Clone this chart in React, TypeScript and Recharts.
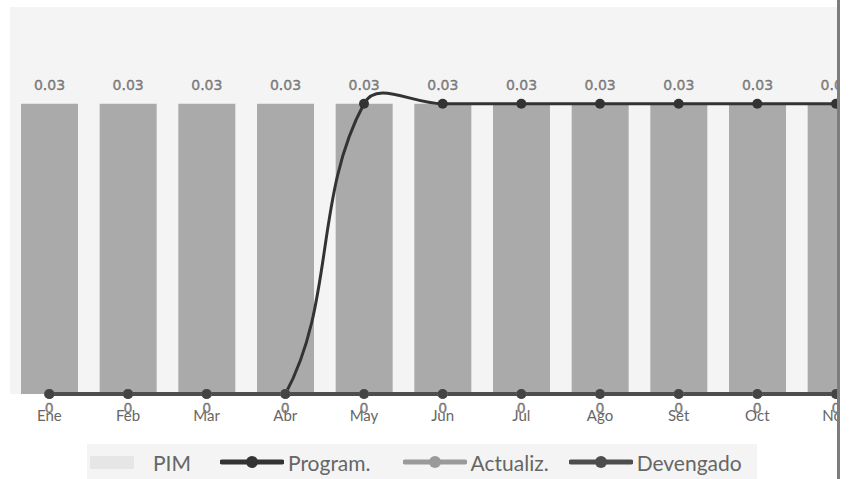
import React from 'react';
import { ComposedChart, Bar, Line, XAxis, YAxis, CartesianGrid, Legend, LabelList } from 'recharts';

const months = ['Ene', 'Feb', 'Mar', 'Abr', 'May', 'Jun', 'Jul', 'Ago', 'Set', 'Oct', 'Nov', 'Dic'];
const pim = [0.03, 0.03, 0.03, 0.03, 0.03, 0.03, 0.03, 0.03, 0.03, 0.03, 0.03, 0.03];
const programado = [0, 0, 0, 0, 0.03, 0.03, 0.03, 0.03, 0.03, 0.03, 0.03, 0.03];
const actualizado = [0, 0, 0, 0, 0, 0, 0, 0, 0, 0, 0, 0];
const devengado = [0, 0, 0, 0, 0, 0, 0, 0, 0, 0, 0, 0];

const data = months.map((m, i) => ({
    mes: m,
    PIM: pim[i],
    'Program.': programado[i],
    'Actualiz.': actualizado[i],
    Devengado: devengado[i],
}));

// spline like chart.js (tension 0.4, control points capped at the bottom)
const splineCurve = (ctx: any) => {
    let pts: [number, number][] = [];
    const t = 0.4;
    return {
        areaStart() {},
        areaEnd() {},
        lineStart() { pts = []; },
        point(x: number, y: number) { pts.push([+x, +y]); },
        lineEnd() {
            if (!pts.length) return;
            const maxY = Math.max(...pts.map(p => p[1]));
            const cps = pts.map((cur, i) => {
                const prev = pts[i - 1] || cur;
                const next = pts[i + 1] || cur;
                const d01 = Math.hypot(cur[0] - prev[0], cur[1] - prev[1]);
                const d12 = Math.hypot(next[0] - cur[0], next[1] - cur[1]);
                const sum = d01 + d12 || 1;
                const fa = t * d01 / sum;
                const fb = t * d12 / sum;
                const dx = next[0] - prev[0];
                const dy = next[1] - prev[1];
                const cap = (v: number) => Math.min(v, maxY);
                return {
                    p: [cur[0] - fa * dx, cap(cur[1] - fa * dy)],
                    n: [cur[0] + fb * dx, cap(cur[1] + fb * dy)],
                };
            });
            ctx.moveTo(pts[0][0], pts[0][1]);
            for (let i = 1; i < pts.length; i++) {
                ctx.bezierCurveTo(cps[i - 1].n[0], cps[i - 1].n[1], cps[i].p[0], cps[i].p[1], pts[i][0], pts[i][1]);
            }
        },
    };
};

// thin outlined look of the value labels
const labelFont = { fill: '#888', stroke: '#555', strokeWidth: 0.3, style: { fontFamily: "'DejaVu Sans', sans-serif" } };

const BarTopLabel = (props: any) => {
    const { x, y, width, value } = props;
    return (
        <text x={x + width / 2} y={y - 14} textAnchor="middle" fontSize={14} {...labelFont}>{value}</text>
    );
};

const PointLabel = (props: any) => {
    const { x, y, value } = props;
    return (
        <text x={x} y={y + 19} textAnchor="middle" fontSize={14} {...labelFont}>{value}</text>
    );
};

const legendItems = [
    { name: 'PIM', color: '#e6e6e6', bar: true, gap: 3 },
    { name: 'Program.', color: '#333333', gap: 29 },
    { name: 'Actualiz.', color: '#9a9a9a', gap: 32 },
    { name: 'Devengado', color: '#4d4d4d', gap: 20 },
];

const LegendBox = () => (
    <div style={{ display: 'flex', alignItems: 'center', height: 36, background: '#f4f4f4', fontFamily: 'Lato', fontSize: 21, color: '#666' }}>
        {legendItems.map(it => (
            <div key={it.name} style={{ display: 'flex', alignItems: 'center', marginLeft: it.gap }}>
                {it.bar ? (
                    <div style={{ width: 44, height: 13, background: it.color, marginRight: 19 }} />
                ) : (
                    <svg width={64} height={16} style={{ marginRight: 4 }}>
                        <line x1={2} y1={8} x2={62} y2={8} stroke={it.color} strokeWidth={5} strokeLinecap="round" />
                        <circle cx={32} cy={8} r={6} fill={it.color} />
                    </svg>
                )}
                <span>{it.name}</span>
            </div>
        ))}
    </div>
);

export default function App() {
    return (
        <div style={{ position: 'absolute', left: 0, top: 0, width: 849, height: 479, background: '#fff', overflow: 'hidden' }}>
            <div style={{ position: 'absolute', left: 0, top: 0, width: 837, height: 479, overflow: 'hidden', borderRight: '3px solid #7d7d7d' }}>
                <ComposedChart width={960} height={479} data={data} margin={{ top: 7, right: 6, left: 10, bottom: 55 }}>
                    <CartesianGrid fill="#f4f4f4" horizontal={false} vertical={false} />
                    <XAxis
                        dataKey="mes"
                        axisLine={false}
                        tickLine={false}
                        tickSize={0}
                        tickMargin={16}
                        height={30}
                        interval={0}
                        tick={{ fill: '#666', fontFamily: 'Lato', fontSize: 15 }}
                    />
                    <YAxis hide domain={[0, 0.04]} />
                    <Legend verticalAlign="middle" layout="horizontal" content={<LegendBox />}
                        wrapperStyle={{ left: 87, top: 444, width: 670 }} />
                    <Bar dataKey="PIM" fill="#aaaaaa" barSize={57} isAnimationActive={false}>
                        <LabelList dataKey="PIM" content={<BarTopLabel />} />
                    </Bar>
                    <Line dataKey="Program." type={splineCurve as any} stroke="#333333" strokeWidth={3}
                        dot={{ r: 5, fill: '#333333', stroke: '#333333', strokeWidth: 0 }} isAnimationActive={false} />
                    <Line dataKey="Actualiz." type={splineCurve as any} stroke="#9a9a9a" strokeWidth={3}
                        dot={{ r: 5, fill: '#9a9a9a', strokeWidth: 0 }} isAnimationActive={false} />
                    <Line dataKey="Devengado" type={splineCurve as any} stroke="#4d4d4d" strokeWidth={4}
                        dot={{ r: 5, fill: '#444', stroke: '#444', strokeWidth: 0 }} isAnimationActive={false}>
                        <LabelList dataKey="Devengado" content={<PointLabel />} />
                    </Line>
                </ComposedChart>
            </div>
        </div>
    );
}
